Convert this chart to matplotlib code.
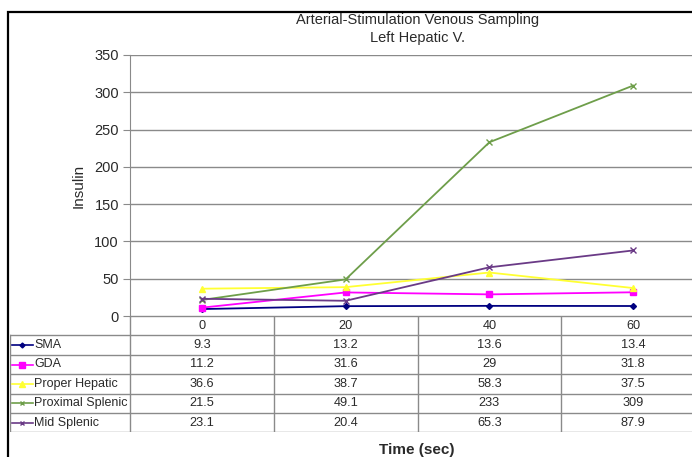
import matplotlib.pyplot as plt
from matplotlib.lines import Line2D
from matplotlib.patches import Rectangle

plt.rcParams['font.family'] = ['Liberation Sans', 'DejaVu Sans']

times = ["0", "20", "40", "60"]
series_names = ["SMA", "GDA", "Proper Hepatic", "Proximal Splenic", "Mid Splenic"]
sma = [9.3, 13.2, 13.6, 13.4]
gda = [11.2, 31.6, 29, 31.8]
proper_hepatic = [36.6, 38.7, 58.3, 37.5]
proximal_splenic = [21.5, 49.1, 233, 309]
mid_splenic = [23.1, 20.4, 65.3, 87.9]
y_ticks = [0, 50, 100, 150, 200, 250, 300, 350]

series = [sma, gda, proper_hepatic, proximal_splenic, mid_splenic]
colors = ["#000080", "#FF00FF", "#FFFF33", "#6E9E4A", "#6A3A86"]
markers = ["D", "s", "^", "x", "x"]
msizes = [3, 5, 5, 4, 4]

W, H = 692, 457
fig = plt.figure(figsize=(W / 100, H / 100), dpi=100)

def fx(px):
    return px / W

def fy(py):
    return 1 - py / H

# outer frame (cut off on the right and bottom like the screenshot)
fig.patches.append(Rectangle((fx(8), -0.05), 1.1, fy(12) + 0.05, transform=fig.transFigure,
                             fill=False, edgecolor="black", linewidth=1.6, zorder=0))

txt = "#2a2a2a"

# plot area
left_px, right_px, top_px, base_px = 130, 705, 55, 316
ax = fig.add_axes([fx(left_px), fy(base_px), fx(right_px - left_px), (base_px - top_px) / H])
x = list(range(len(times)))
for vals, c, m, ms in zip(series, colors, markers, msizes):
    ax.plot(x, vals, color=c, linewidth=1.3, marker=m, markersize=ms,
            markeredgecolor=c, markerfacecolor=c, markeredgewidth=1.0)
ax.set_xlim(-0.5, len(times) - 0.5)
ax.set_ylim(0, 350)
ax.set_yticks(y_ticks)
ax.set_yticklabels([str(t) for t in y_ticks], fontsize=10.5, color=txt)
ax.set_xticks([])
ax.grid(axis="y", color="#8a8a8a", linewidth=1.0)
ax.set_axisbelow(True)
for s in ["top", "right", "bottom"]:
    ax.spines[s].set_visible(False)
ax.spines["left"].set_color("#8a8a8a")
ax.tick_params(axis="y", length=5, color="#8a8a8a", pad=3)
ax.patch.set_alpha(0)
ax.set_ylabel("Insulin", fontsize=11, color=txt, labelpad=6)

# data table below the plot area
row_h = 19.4
n_rows = len(series) + 1
tab = fig.add_axes([fx(10), fy(base_px + row_h * n_rows), fx(right_px - 10), row_h * n_rows / H])
unit = (right_px - left_px) / len(times)
x_lab = -0.5 - (left_px - 10) / unit
tab.set_xlim(x_lab, len(times) - 0.5)
tab.set_ylim(n_rows, 0)
tab.axis("off")
gc = "#8a8a8a"
# horizontal rules
tab.plot([-0.5, len(times) - 0.5], [0, 0], color=gc, lw=1.0)
for r in range(1, n_rows + 1):
    tab.plot([x_lab, len(times) - 0.5], [r, r], color=gc, lw=1.0)
# vertical rules
tab.plot([x_lab, x_lab], [1, n_rows], color=gc, lw=1.0)
for i in range(len(times)):
    tab.plot([i - 0.5, i - 0.5], [0, n_rows], color=gc, lw=1.0)
# header
for i, t in enumerate(times):
    tab.text(i, 0.5, t, ha="center", va="center", fontsize=9.2, color=txt)
# rows with legend keys
for r, (name, vals, c, m, ms) in enumerate(zip(series_names, series, colors, markers, msizes), start=1):
    kx0 = x_lab + 2 / unit
    kx1 = x_lab + 23 / unit
    tab.add_line(Line2D([kx0, kx1], [r + 0.5, r + 0.5], color=c, lw=1.2))
    tab.plot([(kx0 + kx1) / 2], [r + 0.5], marker=m, color=c, markersize=ms - 0.5,
             markeredgewidth=1.0)
    tab.text(x_lab + 24 / unit, r + 0.5, name, ha="left", va="center", fontsize=9.0, color=txt)
    for i, v in enumerate(vals):
        tab.text(i, r + 0.5, f"{v:g}", ha="center", va="center", fontsize=9.2, color=txt)

fig.text(fx(417), fy(450), "Time (sec)", ha="center", va="center", fontsize=11,
         fontweight="bold", color=txt)
fig.text(fx(418), fy(20), "Arterial-Stimulation Venous Sampling", ha="center", va="center",
         fontsize=10.5, color=txt)
fig.text(fx(418), fy(38), "Left Hepatic V.", ha="center", va="center", fontsize=10.5, color=txt)

fig.savefig("out.png", dpi=100)
